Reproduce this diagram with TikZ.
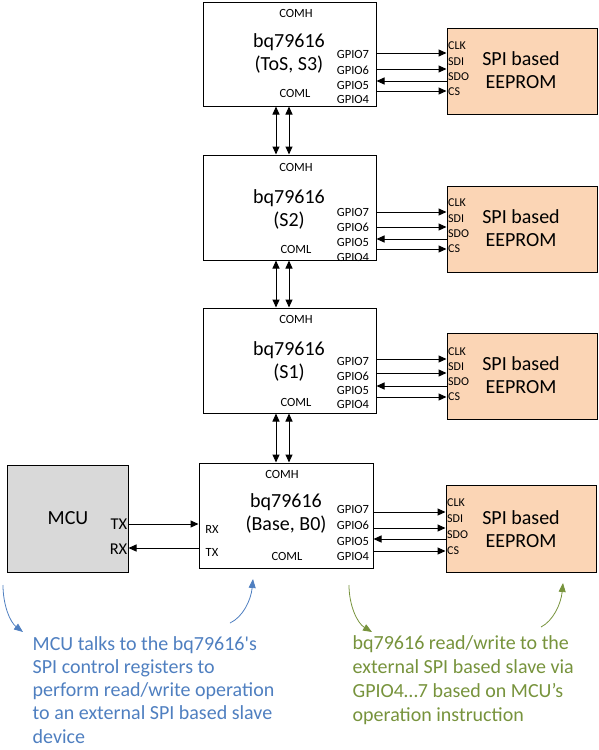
\documentclass[tikz,border=0pt]{standalone}
\usepackage{fontspec}
\setmainfont{Carlito}
\usetikzlibrary{arrows.meta}
\definecolor{peach}{HTML}{FBD5B5}
\definecolor{mcugray}{HTML}{D9D9D9}
\definecolor{noteblue}{HTML}{4F7FC0}
\definecolor{notegreen}{HTML}{77933C}
\newcommand\gpioarrows[6]{%
  \coordinate (ya) at (0,#3);
  \coordinate (yb) at (0,#4);
  \coordinate (yc) at (0,#5);
  \coordinate (yd) at (0,#6);
  \draw[conn] (#1.east |- ya) -- (#2.west |- ya);
  \draw[conn] (#1.east |- yb) -- (#2.west |- yb);
  \draw[conn] (#2.west |- yc) -- (#1.east |- yc);
  \draw[conn] (#1.east |- yd) -- (#2.west |- yd);
}
\begin{document}
\begin{tikzpicture}[x=1pt,y=-1pt,
  blk/.style={draw,line width=1pt,fill=white,minimum width=173pt,minimum height=104pt,inner sep=0pt},
  eep/.style={draw,line width=1pt,fill=peach,minimum width=150pt,minimum height=86pt,inner sep=0pt},
  title/.style={font=\fontsize{20}{23}\selectfont,align=center,inner sep=0pt},
  pin/.style={font=\fontsize{12.5}{14}\selectfont,inner sep=0pt},
  epin/.style={font=\fontsize{12}{14}\selectfont,inner sep=0pt,anchor=west},
  conn/.style={line width=1pt,-{Triangle[length=8pt,width=7pt]}},
  bidir/.style={line width=1pt,{Triangle[length=8pt,width=7pt]}-{Triangle[length=8pt,width=7pt]}},
  note/.style={font=\fontsize{20}{23.3}\selectfont,align=left,inner sep=0pt,anchor=north west},
  curvarr/.style={line width=0.8pt,-{Triangle[length=9pt,width=7pt]}}]
\useasboundingbox (0,0) rectangle (598,750);

% main blocks
\node[blk] (b1) at (289.5,54) {};
\node[blk,minimum height=105pt] (b2) at (289.5,207.5) {};
\node[blk,minimum height=105pt] (b3) at (289.5,360.5) {};
\node[blk,minimum height=105pt,minimum width=174pt] (b4) at (286,515.5) {};

% EEPROMs
\node[eep] (e1) at (522,71) {};
\node[eep] (e2) at (522,229) {};
\node[eep] (e3) at (522,376) {};
\node[eep,minimum height=87pt] (e4) at (521,528.5) {};

% MCU
\node[draw,line width=1pt,fill=mcugray,minimum width=121pt,minimum height=107pt,inner sep=0pt] (mcu) at (67.5,518.5) {};
\node[title] (mcut) at (68,518) {MCU};
\node[font=\fontsize{16.5}{18}\selectfont,inner sep=0pt,anchor=east] (mtx) at (127.5,524) {TX};
\node[font=\fontsize{16.5}{18}\selectfont,inner sep=0pt,anchor=east] (mrx) at (127.5,549) {RX};

% block texts
\node[pin] (h1) at (296,13) {COMH};
\node[title] (t1) at (289,53.5) {bq79616\\(ToS, S3)};
\node[pin] (l1) at (295,93) {COML};
\node[pin] (g17) at (353,54) {GPIO7};
\node[pin] (g16) at (353,70) {GPIO6};
\node[pin] (g15) at (353,85) {GPIO5};
\node[pin] (g14) at (353,99.5) {GPIO4};

\node[pin] (h2) at (296,167) {COMH};
\node[title] (t2) at (289,209.5) {bq79616\\(S2)};
\node[pin] (l2) at (296,249) {COML};
\node[pin] (g27) at (353,212) {GPIO7};
\node[pin] (g26) at (353,227) {GPIO6};
\node[pin] (g25) at (353,242) {GPIO5};
\node[pin] (g24) at (353,257) {GPIO4};

\node[pin] (h3) at (296,319) {COMH};
\node[title] (t3) at (289,361.5) {bq79616\\(S1)};
\node[pin] (l3) at (296,402) {COML};
\node[pin] (g37) at (353,361) {GPIO7};
\node[pin] (g36) at (353,376) {GPIO6};
\node[pin] (g35) at (353,390) {GPIO5};
\node[pin] (g34) at (353,404) {GPIO4};

\node[pin] (h4) at (282,474) {COMH};
\node[title] (t4) at (286,513.5) {bq79616\\(Base, B0)};
\node[pin] (l4) at (287,556) {COML};
\node[pin] (g47) at (353,509) {GPIO7};
\node[pin] (g46) at (353,525) {GPIO6};
\node[pin] (g45) at (353,541) {GPIO5};
\node[pin] (g44) at (353,556) {GPIO4};
\node[pin] (brx) at (212,529) {RX};
\node[pin] (btx) at (212,552) {TX};

% EEPROM texts
\node[title] (et1) at (521,70) {SPI based\\EEPROM};
\node[title] (et2) at (521,228) {SPI based\\EEPROM};
\node[title] (et3) at (521,375) {SPI based\\EEPROM};
\node[title] (et4) at (521,529) {SPI based\\EEPROM};

\node[epin] (c1a) at (448,46) {CLK};
\node[epin] (c1b) at (448,61.5) {SDI};
\node[epin] (c1c) at (448,77) {SDO};
\node[epin] (c1d) at (448,92) {CS};
\node[epin] (c2a) at (448,203) {CLK};
\node[epin] (c2b) at (448,218.5) {SDI};
\node[epin] (c2c) at (448,233.5) {SDO};
\node[epin] (c2d) at (448,249) {CS};
\node[epin] (c3a) at (448,352) {CLK};
\node[epin] (c3b) at (448,366.5) {SDI};
\node[epin] (c3c) at (448,381.5) {SDO};
\node[epin] (c3d) at (448,396.5) {CS};
\node[epin] (c4a) at (447,503) {CLK};
\node[epin] (c4b) at (447,519) {SDI};
\node[epin] (c4c) at (447,535) {SDO};
\node[epin] (c4d) at (447,551) {CS};

% GPIO connectors
\gpioarrows{b1}{e1}{53}{69}{81}{91}
\gpioarrows{b2}{e2}{212}{227}{239}{249}
\gpioarrows{b3}{e3}{359}{373}{386}{397}
\gpioarrows{b4}{e4}{512}{528}{539}{551}

% vertical daisy chain
\coordinate (va) at (276,0);
\coordinate (vb) at (289,0);
\draw[bidir] (b1.south -| va) -- (b2.north -| va);
\draw[bidir] (b1.south -| vb) -- (b2.north -| vb);
\draw[bidir] (b2.south -| va) -- (b3.north -| va);
\draw[bidir] (b2.south -| vb) -- (b3.north -| vb);
\draw[bidir] (b3.south -| va) -- (b4.north -| va);
\draw[bidir] (b3.south -| vb) -- (b4.north -| vb);

% UART
\coordinate (u1) at (0,524);
\coordinate (u2) at (0,548);
\draw[conn] (mcu.east |- u1) -- (b4.west |- u1);
\draw[conn] (b4.west |- u2) -- (mcu.east |- u2);

% notes
\node[note,text=noteblue] (n1) at (32.5,636) {MCU talks to the bq79616\textquotesingle s\\SPI control registers to\\perform read/write operation\\to an external SPI based slave\\device};
\node[note,text=notegreen,font=\fontsize{20}{24}\selectfont] (n2) at (352.5,635) {bq79616 read/write to the\\external SPI based slave via\\GPIO4…7 based on MCU’s\\operation instruction};

\coordinate (ba1) at (3,585);
\coordinate (ba2) at (23,632);
\coordinate (bb1) at (230,623);
\coordinate (bb2) at (253,579);
\coordinate (ga1) at (349,585);
\coordinate (ga2) at (372,632);
\coordinate (gb1) at (541,627);
\coordinate (gb2) at (563,583);
\draw[curvarr,noteblue] (ba1) .. controls (3,605) and (10,622) .. (ba2);
\draw[curvarr,noteblue] (bb1) .. controls (243,617) and (251,600) .. (bb2);
\draw[curvarr,notegreen] (ga1) .. controls (349,605) and (357,623) .. (ga2);
\draw[curvarr,notegreen] (gb1) .. controls (553,621) and (561,604) .. (gb2);
\end{tikzpicture}
\end{document}
